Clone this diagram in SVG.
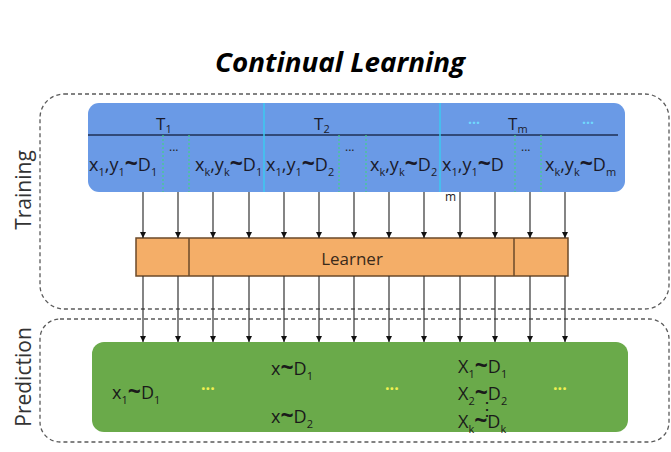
<svg xmlns="http://www.w3.org/2000/svg" width="671" height="452" viewBox="0 0 671 452">
<defs>
<marker id="ah" markerUnits="userSpaceOnUse" markerWidth="7" markerHeight="7" refX="6" refY="3.5" orient="auto">
<path d="M0,0.5 L6,3.5 L0,6.5 z" fill="#111"/>
</marker>
<style>
.title{font-family:"Open Sans","Liberation Sans",sans-serif;font-size:26px;font-weight:bold;font-style:italic;fill:#000}
.side{font-family:"Open Sans","Liberation Sans",sans-serif;font-size:21px;fill:#333}
.outer{fill:none;stroke:#5a5a5a;stroke-width:1.3;stroke-dasharray:4 3}
.r{font-family:"Open Sans","Liberation Sans",sans-serif;font-size:18px;fill:#1a1a2a}
.s{font-size:11px}
.tl{font-size:23px;font-weight:bold}
.hd{font-family:"Open Sans","Liberation Sans",sans-serif;font-size:17px;fill:#1a1a2a}
.cy{stroke:#3cc8f0;stroke-width:1.5}
.gd{stroke:#45d088;stroke-width:1.2;stroke-dasharray:2 2}
.bd{font-family:"Open Sans","Liberation Sans",sans-serif;font-size:12px;fill:#222}
.cd{font-family:"Open Sans","Liberation Sans",sans-serif;font-size:14px;font-weight:bold;fill:#70d8ff}
.yd{font-family:"Open Sans","Liberation Sans",sans-serif;font-size:16px;font-weight:bold;fill:#f0f050}
.g{font-family:"Open Sans","Liberation Sans",sans-serif;font-size:18px;fill:#1a1a1a}
.ar{stroke:#333;stroke-width:1.2;marker-end:url(#ah)}
</style>
</defs>

<text class="title" x="340" y="72" text-anchor="middle" textLength="250" lengthAdjust="spacingAndGlyphs">Continual Learning</text>

<g id="training">
<rect class="outer" x="40" y="94" width="629" height="215" rx="24"/>
<text class="side" transform="translate(31,190) rotate(-90)" text-anchor="middle">Training</text>
</g>

<g id="prediction">
<rect class="outer" x="40" y="319" width="629" height="123" rx="20"/>
<text class="side" transform="translate(31,377) rotate(-90)" text-anchor="middle">Prediction</text>
</g>

<g id="tasks">
<rect x="88" y="103" width="537" height="89" rx="11" fill="#6a9ae6"/>
<line x1="88" y1="135" x2="618" y2="135" stroke="#1f2f55" stroke-width="1.5"/>
<line class="cy" x1="264" y1="103" x2="264" y2="192"/>
<line class="cy" x1="440" y1="103" x2="440" y2="192"/>
<line class="gd" x1="163" y1="135" x2="163" y2="192"/>
<line class="gd" x1="189" y1="135" x2="189" y2="192"/>
<line class="gd" x1="339" y1="135" x2="339" y2="192"/>
<line class="gd" x1="366" y1="135" x2="366" y2="192"/>
<line class="gd" x1="515" y1="135" x2="515" y2="192"/>
<line class="gd" x1="541" y1="135" x2="541" y2="192"/>
<text class="hd" x="156" y="130">T<tspan class="s" dy="3">1</tspan></text>
<text class="hd" x="314" y="130">T<tspan class="s" dy="3">2</tspan></text>
<text class="hd" x="508" y="130">T<tspan class="s" dy="3">m</tspan></text>
<text class="cd" x="468" y="124">...</text>
<text class="cd" x="582" y="124">...</text>
<text class="bd" x="169" y="151">...</text>
<text class="bd" x="345" y="151">...</text>
<text class="bd" x="521" y="151">...</text>
<text class="r" x="89" y="171">x<tspan class="s" dy="5">1</tspan><tspan dy="-5">,y</tspan><tspan class="s" dy="5">1</tspan><tspan class="tl" dy="-5">~</tspan>D<tspan class="s" dy="5">1</tspan></text>
<text class="r" x="195" y="171">x<tspan class="s" dy="5">k</tspan><tspan dy="-5">,y</tspan><tspan class="s" dy="5">k</tspan><tspan class="tl" dy="-5">~</tspan>D<tspan class="s" dy="5">1</tspan></text>
<text class="r" x="266" y="171">x<tspan class="s" dy="5">1</tspan><tspan dy="-5">,y</tspan><tspan class="s" dy="5">1</tspan><tspan class="tl" dy="-5">~</tspan>D<tspan class="s" dy="5">2</tspan></text>
<text class="r" x="370" y="171">x<tspan class="s" dy="5">k</tspan><tspan dy="-5">,y</tspan><tspan class="s" dy="5">k</tspan><tspan class="tl" dy="-5">~</tspan>D<tspan class="s" dy="5">2</tspan></text>
<text class="r" x="442" y="171">x<tspan class="s" dy="5">1</tspan><tspan dy="-5">,y</tspan><tspan class="s" dy="5">1</tspan><tspan class="tl" dy="-5">~</tspan>D</text>
<text class="r" x="545" y="171">x<tspan class="s" dy="5">k</tspan><tspan dy="-5">,y</tspan><tspan class="s" dy="5">k</tspan><tspan class="tl" dy="-5">~</tspan>D<tspan class="s" dy="5">m</tspan></text>
<text class="bd" x="445" y="201" font-size="11">m</text>
</g>

<g id="learner">
<rect x="136" y="238" width="432" height="38" fill="#f4ae68" stroke="#6b4a2a" stroke-width="1.5"/>
<line x1="189" y1="238" x2="189" y2="276" stroke="#6b4a2a" stroke-width="1.5"/>
<line x1="514" y1="238" x2="514" y2="276" stroke="#6b4a2a" stroke-width="1.5"/>
<text x="352" y="265" text-anchor="middle" font-family="Open Sans, Liberation Sans, sans-serif" font-size="17" fill="#3a2a1a">Learner</text>
</g>

<g id="predictions">
<rect x="92" y="342" width="536" height="90" rx="12" fill="#6aaa4a"/>
<text class="g" x="112" y="399">x<tspan class="s" dy="5">1</tspan><tspan class="tl" dy="-5">~</tspan>D<tspan class="s" dy="5">1</tspan></text>
<text class="yd" x="201" y="390">...</text>
<text class="g" x="271" y="375">x<tspan class="tl">~</tspan>D<tspan class="s" dy="5">1</tspan></text>
<text class="g" x="271" y="423">x<tspan class="tl">~</tspan>D<tspan class="s" dy="5">2</tspan></text>
<text class="yd" x="385" y="390">...</text>
<text class="g" x="458" y="373">X<tspan class="s" dy="5">1</tspan><tspan class="tl" dy="-5">~</tspan>D<tspan class="s" dy="5">1</tspan></text>
<text class="g" x="458" y="400">X<tspan class="s" dy="5">2</tspan><tspan class="tl" dy="-5">~</tspan>D<tspan class="s" dy="5">2</tspan></text>
<text class="g" x="478" y="415" font-size="10">⋮</text>
<text class="g" x="458" y="428">X<tspan class="s" dy="5">k</tspan><tspan class="tl" dy="-5">~</tspan>D<tspan class="s" dy="5">k</tspan></text>
<text class="yd" x="553" y="390">...</text>
</g>

<g id="connectors">
<line class="ar" x1="143" y1="192" x2="143" y2="238"/>
<line class="ar" x1="178" y1="192" x2="178" y2="238"/>
<line class="ar" x1="213" y1="192" x2="213" y2="238"/>
<line class="ar" x1="249" y1="192" x2="249" y2="238"/>
<line class="ar" x1="284" y1="192" x2="284" y2="238"/>
<line class="ar" x1="319" y1="192" x2="319" y2="238"/>
<line class="ar" x1="354" y1="192" x2="354" y2="238"/>
<line class="ar" x1="389" y1="192" x2="389" y2="238"/>
<line class="ar" x1="424" y1="192" x2="424" y2="238"/>
<line class="ar" x1="460" y1="192" x2="460" y2="238"/>
<line class="ar" x1="495" y1="192" x2="495" y2="238"/>
<line class="ar" x1="530" y1="192" x2="530" y2="238"/>
<line class="ar" x1="565" y1="192" x2="565" y2="238"/>
<line class="ar" x1="143" y1="276" x2="143" y2="342"/>
<line class="ar" x1="178" y1="276" x2="178" y2="342"/>
<line class="ar" x1="213" y1="276" x2="213" y2="342"/>
<line class="ar" x1="249" y1="276" x2="249" y2="342"/>
<line class="ar" x1="284" y1="276" x2="284" y2="342"/>
<line class="ar" x1="319" y1="276" x2="319" y2="342"/>
<line class="ar" x1="354" y1="276" x2="354" y2="342"/>
<line class="ar" x1="389" y1="276" x2="389" y2="342"/>
<line class="ar" x1="424" y1="276" x2="424" y2="342"/>
<line class="ar" x1="460" y1="276" x2="460" y2="342"/>
<line class="ar" x1="495" y1="276" x2="495" y2="342"/>
<line class="ar" x1="530" y1="276" x2="530" y2="342"/>
<line class="ar" x1="565" y1="276" x2="565" y2="342"/>
</g>
</svg>
